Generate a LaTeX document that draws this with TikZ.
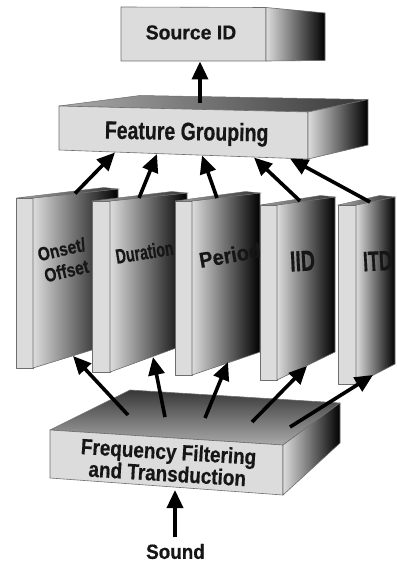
\documentclass[tikz,border=0pt]{standalone}
\usepackage{fontspec}
\setmainfont{Liberation Sans}
\newfontfamily\heavyfont{Liberation Sans Bold}[FakeBold=0.6]
\usetikzlibrary{arrows.meta}
\definecolor{facefill}{RGB}{220,220,220}
\definecolor{edgecol}{RGB}{110,110,110}
\definecolor{inkcol}{RGB}{22,22,22}
\definecolor{topdark}{RGB}{55,55,55}
\definecolor{toplight}{RGB}{170,170,170}
\newcommand{\lblfont}[2]{\fontsize{#1bp}{#2bp}\selectfont\heavyfont}
\tikzset{
  front/.style={fill=facefill, draw=edgecol, line width=0.6bp, line join=round},
  sideface/.style={left color=facefill, right color=black, draw=edgecol, line width=0.6bp, line join=round},
  lidface/.style={left color=toplight, right color=topdark, draw=edgecol, line width=0.5bp, line join=round},
  deckface/.style={top color=topdark, bottom color=toplight, draw=edgecol, line width=0.6bp, line join=round},
  slabtop/.style={left color=gray!70, right color=black!80, draw=edgecol, line width=0.4bp},
  conn/.style={line width=3.6bp, -{Triangle[length=18bp,width=16bp]}},
  lbl/.style={inner sep=0pt, text=inkcol, align=center},
}
% one upright slab: x0, x1, top y, bottom y, far x, far top y, far bottom y, label
\newcommand{\slab}[8]{%
  \draw[front] (#1,#3) -- (#2,#3) -- (#2,#4) -- (#1,#4) -- cycle;
  \draw[sideface] (#2,#3) -- (#5,#6) -- (#5,#7) -- (#2,#4) -- cycle;
  \draw[slabtop] (#1,#3) -- (#2,#3) -- (#5,#6) -- ({#5-0.85*(#2-#1)},{#6-1.5}) -- cycle;
  \begin{scope}
    \clip (#2,#3) -- (#5,#6) -- (#5,#7) -- (#2,#4) -- cycle;
    #8
  \end{scope}
}
\begin{document}
\begin{tikzpicture}[x=1bp,y=-1bp]
\useasboundingbox[fill=white] (0,0) rectangle (396,562);

% Source ID block
\draw[front] (121,7) -- (266,7.5) -- (266,61) -- (121,61) -- cycle;
\draw[sideface] (266,7.5) -- (325,13) -- (325,60.5) -- (266,61) -- cycle;
\node[lbl, font=\lblfont{20}{20}, xscale=0.97] (source) at (191,32.5) {Source ID};

% Feature Grouping block
\draw[lidface] (59,106) -- (140,95.5) -- (368,99.5) -- (308,112) -- cycle;
\draw[front] (59,106) -- (308,112) -- (308,159) -- (59,150) -- cycle;
\draw[sideface] (308,112) -- (368,99.5) -- (368,145) -- (308,159) -- cycle;
\node[lbl, font=\lblfont{25}{25}, anchor=base, rotate=-1, xscale=0.78] (grouping) at (186.5,140) {Feature Grouping};

\coordinate (grpTop) at (200,103);
\coordinate (srcBot) at (200,61.5);
\draw[conn] (grpTop) -- (srcBot);

% feature slabs
\slab{16.5}{33}{198}{368}{118}{189}{342}{\node[lbl, font=\lblfont{19}{22}, rotate=13, xscale=0.82] (onset) at (64,260) {Onset/\\Offset};}
\slab{92}{110}{201}{372}{187}{193}{344}{\node[lbl, font=\lblfont{20.5}{20.5}, rotate=9, xscale=0.69] (duration) at (144.5,252) {Duration};}
\slab{175}{192}{201}{375}{260}{193}{352}{\node[lbl, font=\lblfont{21.5}{21.5}, rotate=10, xscale=0.93] (period) at (230,255) {Period};}
\slab{260}{277}{205}{380}{335}{197}{352}{\node[lbl, font=\lblfont{29}{29}, rotate=3, xscale=0.67] (iid) at (302.5,261) {IID};}
\slab{338}{356}{205}{384}{395}{197}{364}{\node[lbl, font=\lblfont{28}{28}, rotate=3, xscale=0.64] (itd) at (377.5,261) {ITD};}

% slab outputs into Feature Grouping
\coordinate (onsetTop) at (75,193.5);
\coordinate (durTop) at (139,198);
\coordinate (perTop) at (217,198);
\coordinate (iidTop) at (300,201);
\coordinate (itdTop) at (370,202);
\coordinate (grpIn1) at (115,152.5);
\coordinate (grpIn2) at (157,154);
\coordinate (grpIn3) at (202,155.5);
\coordinate (grpIn4) at (254,157.5);
\coordinate (grpIn5) at (290,158.5);
\draw[conn] (onsetTop) -- (grpIn1);
\draw[conn] (durTop) -- (grpIn2);
\draw[conn] (perTop) -- (grpIn3);
\draw[conn] (iidTop) -- (grpIn4);
\draw[conn] (itdTop) -- (grpIn5);

% Frequency Filtering block
\draw[deckface] (50,430) -- (130,390) -- (340,403) -- (283,445) -- cycle;
\draw[front] (50,430) -- (283,445) -- (283,495) -- (50,478) -- cycle;
\draw[sideface] (283,445) -- (340,403) -- (340,443) -- (283,495) -- cycle;
\node[lbl, font=\lblfont{22}{22}, rotate=-3.5, xscale=0.86] (filtering) at (168,462.5) {Frequency Filtering\\and Transduction};

% filter outputs into the slabs
\coordinate (deck1) at (128,415);
\coordinate (deck2) at (165,417);
\coordinate (deck3) at (205,418);
\coordinate (deck4) at (252,422);
\coordinate (deck5) at (290,427);
\coordinate (onsetBot) at (73,356);
\coordinate (durBot) at (153,357);
\coordinate (perBot) at (228,362);
\coordinate (iidBot) at (307,366);
\coordinate (itdBot) at (373,375);
\draw[conn] (deck1) -- (onsetBot);
\draw[conn] (deck2) -- (durBot);
\draw[conn] (deck3) -- (perBot);
\draw[conn] (deck4) -- (iidBot);
\draw[conn] (deck5) -- (itdBot);

% sound input
\node[lbl, font=\lblfont{20.5}{20.5}, xscale=0.92] (sound) at (175.5,551.5) {Sound};
\coordinate (soundTop) at (175,537);
\coordinate (filterBot) at (175,490);
\draw[conn] (soundTop) -- (filterBot);
\end{tikzpicture}
\end{document}
